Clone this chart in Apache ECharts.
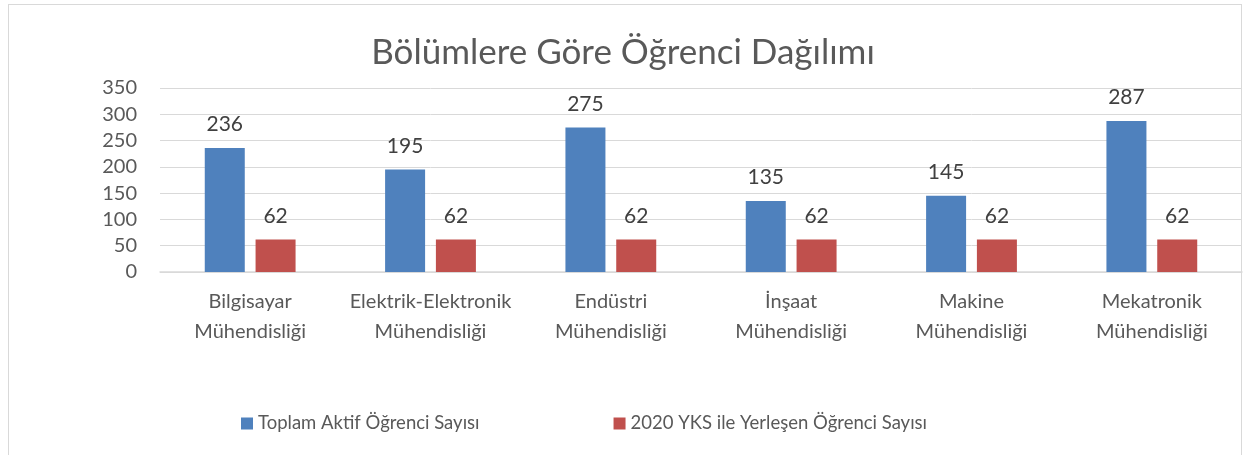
<!DOCTYPE html>
<html>
<head>
<meta charset="utf-8">
<script src="https://cdn.jsdelivr.net/npm/echarts@6/dist/echarts.min.js"></script>
<style>
  html, body { margin: 0; padding: 0; background: #fff; }
  #wrap { position: relative; width: 1246px; height: 455px; }
  #frame { position: absolute; left: 8px; top: 4px; width: 1234px; height: 460px; border: 1px solid #d9d9d9; box-sizing: border-box; }
  #c { position: absolute; left: 0; top: 0; width: 1246px; height: 455px; }
</style>
</head>
<body>
<div id="wrap">
  <div id="frame"></div>
  <div id="c"></div>
</div>
<script>
const categories = [
  'Bilgisayar\nMühendisliği',
  'Elektrik-Elektronik\nMühendisliği',
  'Endüstri\nMühendisliği',
  'İnşaat\nMühendisliği',
  'Makine\nMühendisliği',
  'Mekatronik\nMühendisliği',
]
const toplamAktif = [236, 195, 275, 135, 145, 287]
const yksYerlesen = [62, 62, 62, 62, 62, 62]
const seriesNames = ['Toplam Aktif Öğrenci Sayısı', '2020 YKS ile Yerleşen Öğrenci Sayısı']

const font = 'Lato, "Open Sans", sans-serif'
const textColor = '#595959'

const label = {
  show: true,
  position: 'top',
  distance: 13,
  color: '#404040',
  fontSize: 21,
  fontFamily: font,
}

const eIns = echarts.init(document.getElementById('c'))
eIns.setOption({
  animation: false,
  textStyle: { fontFamily: font },
  title: {
    text: 'Bölümlere Göre Öğrenci Dağılımı',
    left: 'center',
    top: 30,
    textStyle: { color: textColor, fontSize: 35, fontWeight: 'normal', fontFamily: font },
  },
  legend: {
    left: 236,
    top: 409,
    itemWidth: 12,
    itemHeight: 12,
    itemGap: 134,
    itemStyle: { borderWidth: 0 },
    icon: 'rect',
    textStyle: { color: textColor, fontSize: 18.5, fontFamily: font },
    data: seriesNames,
  },
  grid: {
    left: 160,
    right: 4,
    top: 88,
    bottom: 183,
  },
  xAxis: {
    type: 'category',
    data: categories,
    axisLine: { lineStyle: { color: '#d9d9d9', width: 1.5 } },
    axisTick: { show: false },
    axisLabel: { color: textColor, fontSize: 20, lineHeight: 30, margin: 15, interval: 0, fontFamily: font },
  },
  yAxis: {
    type: 'value',
    min: 0,
    max: 350,
    interval: 50,
    axisLine: { show: false },
    axisTick: { show: false },
    axisLabel: { color: textColor, fontSize: 20, margin: 23, fontFamily: font },
    splitLine: { lineStyle: { color: '#d9d9d9', width: 1 } },
  },
  series: [
    {
      name: seriesNames[0],
      type: 'bar',
      data: toplamAktif,
      barWidth: 40,
      barGap: '27%',
      itemStyle: { color: '#4f81bd' },
      label,
    },
    {
      name: seriesNames[1],
      type: 'bar',
      data: yksYerlesen,
      barWidth: 40,
      barGap: '27%',
      itemStyle: { color: '#c0504d' },
      label,
    },
  ],
})
</script>
</body>
</html>
